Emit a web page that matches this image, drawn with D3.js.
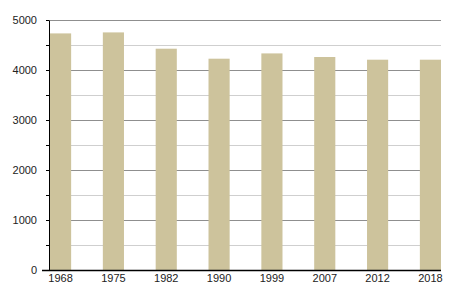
<!DOCTYPE html>
<html>
<head>
<meta charset="utf-8">
<script src="https://cdn.jsdelivr.net/npm/d3@7"></script>
<style>
  body { margin: 0; background: #fff; }
  svg text { font-family: "Liberation Sans", Arial, sans-serif; font-size: 11px; fill: #222; }
</style>
</head>
<body>
<svg id="chart" width="450" height="300"></svg>
<script>
// values
var years = ["1968", "1975", "1982", "1990", "1999", "2007", "2012", "2018"];
var population = [4732, 4752, 4426, 4226, 4332, 4260, 4206, 4206];
var yTicks = [0, 1000, 2000, 3000, 4000, 5000];

var margin = {top: 20, right: 9, bottom: 30, left: 49};
var svg = d3.select("#chart");
var width = +svg.attr("width") - margin.left - margin.right;
var height = +svg.attr("height") - margin.top - margin.bottom;
var g = svg.append("g").attr("transform", `translate(${margin.left}, ${margin.top})`);

var x = d3.scaleBand().domain(years).range([1, width]).paddingInner(0.6).paddingOuter(0);
var y = d3.scaleLinear().domain([0, 5000]).range([height, 0]);

// minor grid (every 500)
var minor = d3.range(500, 5000, 1000);
g.selectAll(".minor").data(minor).enter().append("line")
  .attr("x1", 0).attr("x2", width)
  .attr("y1", d => y(d) + 0.5).attr("y2", d => y(d) + 0.5)
  .attr("stroke", "#cfcfcf");

// major grid
g.selectAll(".major").data(yTicks.slice(1)).enter().append("line")
  .attr("x1", 0).attr("x2", width)
  .attr("y1", d => y(d) + 0.5).attr("y2", d => y(d) + 0.5)
  .attr("stroke", "#8f8f8f");

// bars
g.selectAll(".bar").data(population).enter().append("rect")
  .attr("x", (d, i) => x(years[i]))
  .attr("width", x.bandwidth())
  .attr("y", d => y(d))
  .attr("height", d => height - y(d))
  .attr("fill", "#cdc39c");

// y axis
var yAxis = g.append("g")
  .call(d3.axisLeft(y).tickValues(yTicks).tickFormat(d3.format("d"))
    .tickSize(3).tickSizeOuter(0).tickPadding(9));
yAxis.select(".domain").attr("stroke", "#000");
yAxis.selectAll("text").style("font-size", "11px");
g.append("g")
  .call(d3.axisLeft(y).tickValues(minor).tickSize(3).tickFormat(""))
  .select(".domain").remove();

// x axis
var xAxis = g.append("g").attr("transform", `translate(0, ${height})`)
  .call(d3.axisBottom(x).tickSize(0).tickPadding(4));
xAxis.select(".domain").remove();
g.append("line")
  .attr("x1", -7).attr("x2", width)
  .attr("y1", height + 0.5).attr("y2", height + 0.5)
  .attr("stroke", "#000").attr("stroke-width", 1.5);
</script>
</body>
</html>
